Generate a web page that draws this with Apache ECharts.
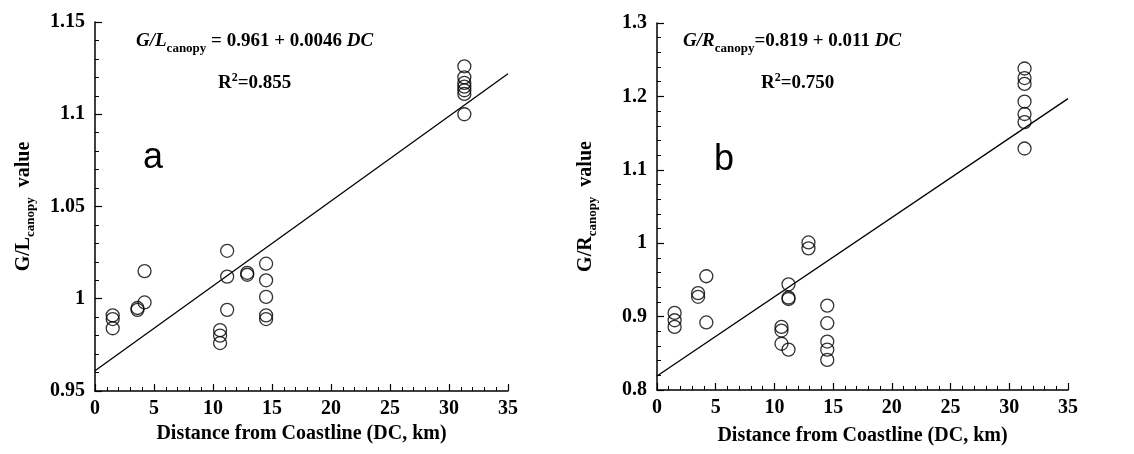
<!DOCTYPE html>
<html><head><meta charset="utf-8">
<script src="https://cdn.jsdelivr.net/npm/echarts@6/dist/echarts.min.js"></script>
<style>html,body{margin:0;padding:0;background:#fff}#c{width:1134px;height:454px}</style>
</head><body><div id="c"></div>
<script>
// Panel a data
const xA = [1.5,1.5,1.5, 3.6,3.6, 4.2,4.2, 10.6,10.6,10.6, 11.2,11.2,11.2, 12.9,12.9, 14.5,14.5,14.5,14.5,14.5, 31.3,31.3,31.3,31.3,31.3,31.3,31.3];
const yA = [0.991,0.989,0.984, 0.995,0.994, 1.015,0.998, 0.983,0.980,0.976, 1.026,1.012,0.994, 1.014,1.013, 1.019,1.010,1.001,0.991,0.989, 1.126,1.120,1.117,1.115,1.113,1.111,1.100];
const fitA = [[0,0.961],[35,1.122]];
// Panel b data
const xB = [1.5,1.5,1.5, 3.5,3.5, 4.2,4.2, 10.6,10.6,10.6, 11.2,11.2,11.2,11.2, 12.9,12.9, 14.5,14.5,14.5,14.5,14.5, 31.3,31.3,31.3,31.3,31.3,31.3,31.3];
const yB = [0.905,0.895,0.886, 0.932,0.927, 0.955,0.892, 0.886,0.881,0.863, 0.944,0.926,0.924,0.855, 1.001,0.993, 0.915,0.891,0.866,0.855,0.841, 1.238,1.225,1.217,1.193,1.176,1.165,1.129];
const fitB = [[0,0.819],[35,1.197]];
const xTicks = {min:0, max:35, interval:5};
const yTicksA = {min:0.95, max:1.15, interval:0.05};
const yTicksB = {min:0.8, max:1.3, interval:0.1};

const SERIF = '"Liberation Serif","Times New Roman",serif';
const lbl = {fontFamily:SERIF, fontWeight:'bold', fontSize:20, color:'#000'};
function xAxis(gi){
  return {type:'value', gridIndex:gi, min:xTicks.min, max:xTicks.max, interval:xTicks.interval,
    axisLine:{onZero:false, lineStyle:{color:'#000', width:1.5}},
    axisTick:{inside:true, length:7, lineStyle:{color:'#000', width:1.2}},
    minorTick:{show:true, splitNumber:5, length:4, lineStyle:{color:'#000', width:1}},
    splitLine:{show:false}, minorSplitLine:{show:false},
    axisLabel:Object.assign({margin:8}, lbl),
    name:'Distance from Coastline (DC, km)', nameLocation:'middle', nameGap: gi===0?32:36,
    nameTextStyle:{fontFamily:SERIF, fontWeight:'bold', fontSize:20, color:'#000'}};
}
function yAxis(gi, t, sub){
  return {type:'value', gridIndex:gi, min:t.min, max:t.max, interval:t.interval,
    axisLine:{lineStyle:{color:'#000', width:1.5}},
    axisTick:{inside:true, length:7, lineStyle:{color:'#000', width:1.2}},
    minorTick:{show:true, splitNumber:5, length:4, lineStyle:{color:'#000', width:1}},
    splitLine:{show:false}, minorSplitLine:{show:false},
    axisLabel:Object.assign({margin:10}, lbl),
    name:'{m|' + sub + '}{s|canopy}{m|  value}', nameLocation:'middle', nameGap:58, nameRotate:90,
    nameTextStyle:{rich:{
      m:{fontFamily:SERIF, fontWeight:'bold', fontSize:20, color:'#000'},
      s:{fontFamily:SERIF, fontWeight:'bold', fontSize:13, color:'#000', padding:[14,0,0,0]}
    }}};
}
const pts = (xs, ys) => xs.map((x,i)=>[x, ys[i]]);
const circ = {color:'rgba(255,255,255,0)', borderColor:'#000', borderWidth:1.3};
const richEq = {
  i:{fontFamily:SERIF, fontWeight:'bold', fontStyle:'italic', fontSize:19, fill:'#000'},
  b:{fontFamily:SERIF, fontWeight:'bold', fontSize:19, fill:'#000'},
  s:{fontFamily:SERIF, fontWeight:'bold', fontSize:13, fill:'#000', padding:[14,0,0,0]},
  p:{fontFamily:SERIF, fontWeight:'bold', fontSize:12, fill:'#000', padding:[0,0,10,0]}
};
const option = {
  animation:false,
  grid:[{left:95, top:22, width:413, height:369},{left:657, top:23, width:411, height:367}],
  xAxis:[xAxis(0), xAxis(1)],
  yAxis:[yAxis(0, yTicksA, 'G/L'), yAxis(1, yTicksB, 'G/R')],
  series:[
    {type:'scatter', xAxisIndex:0, yAxisIndex:0, data:pts(xA,yA), symbol:'circle', symbolSize:13, itemStyle:circ},
    {type:'line', xAxisIndex:0, yAxisIndex:0, data:fitA, showSymbol:false, symbol:'none', lineStyle:{color:'#000', width:1.3}},
    {type:'scatter', xAxisIndex:1, yAxisIndex:1, data:pts(xB,yB), symbol:'circle', symbolSize:13, itemStyle:circ},
    {type:'line', xAxisIndex:1, yAxisIndex:1, data:fitB, showSymbol:false, symbol:'none', lineStyle:{color:'#000', width:1.3}}
  ],
  graphic:[
    {type:'text', left:136, top:32, style:{text:'{i|G/L}{s|canopy}{b| = 0.961 + 0.0046 }{i|DC}', rich:richEq}},
    {type:'text', left:218, top:72, style:{text:'{b|R}{p|2}{b|=0.855}', rich:richEq}},
    {type:'text', left:143, top:140, style:{text:'a', fontFamily:'"Liberation Sans",Arial,sans-serif', fontSize:36, fill:'#000'}},
    {type:'text', left:683, top:32, style:{text:'{i|G/R}{s|canopy}{b|=0.819 + 0.011 }{i|DC}', rich:richEq}},
    {type:'text', left:761, top:72, style:{text:'{b|R}{p|2}{b|=0.750}', rich:richEq}},
    {type:'text', left:714, top:142, style:{text:'b', fontFamily:'"Liberation Sans",Arial,sans-serif', fontSize:36, fill:'#000'}}
  ]
};
echarts.init(document.getElementById('c')).setOption(option);
</script></body></html>
